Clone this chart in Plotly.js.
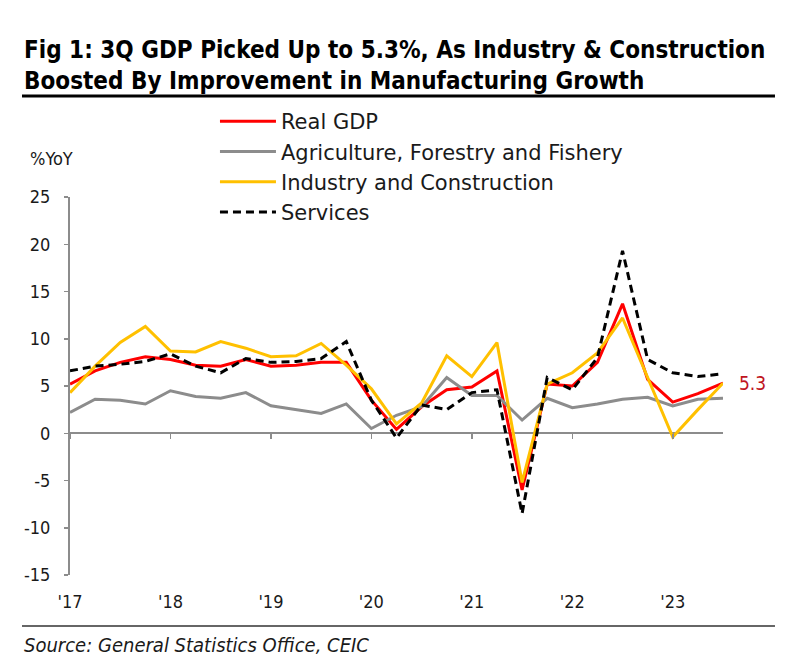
<!DOCTYPE html>
<html>
<head>
<meta charset="utf-8">
<script src="https://cdn.plot.ly/plotly-3.0.1.min.js"></script>
<style>html,body{margin:0;padding:0;background:#fff;}#chart{width:800px;height:671px;}</style>
</head>
<body>
<div id="chart"></div>
<script>
// Quarterly categories 1Q2017 .. 3Q2023
const quarters = [
  "1Q17","2Q17","3Q17","4Q17",
  "1Q18","2Q18","3Q18","4Q18",
  "1Q19","2Q19","3Q19","4Q19",
  "1Q20","2Q20","3Q20","4Q20",
  "1Q21","2Q21","3Q21","4Q21",
  "1Q22","2Q22","3Q22","4Q22",
  "1Q23","2Q23","3Q23"
];
const realGDP = [5.2, 6.6, 7.5, 8.1, 7.8, 7.2, 7.1, 7.8, 7.1, 7.2, 7.5, 7.5,
                 3.5, 0.4, 2.8, 4.6, 4.9, 6.6, -6.0, 5.2, 5.0, 7.5, 13.7, 5.7, 3.3, 4.2, 5.3];
const agriculture = [2.2, 3.6, 3.5, 3.1, 4.5, 3.9, 3.7, 4.3, 2.9, 2.5, 2.1, 3.1,
                     0.5, 1.9, 2.8, 5.9, 4.0, 4.0, 1.4, 3.7, 2.7, 3.1, 3.6, 3.8, 2.9, 3.6, 3.7];
const industry = [4.3, 7.1, 9.6, 11.3, 8.7, 8.6, 9.7, 9.0, 8.1, 8.2, 9.5, 7.2,
                  4.7, 1.0, 3.2, 8.2, 6.0, 9.6, -5.2, 5.2, 6.4, 8.5, 12.2, 6.0, -0.4, 2.5, 5.3];
const services = [6.6, 7.1, 7.3, 7.6, 8.4, 7.1, 6.4, 7.9, 7.5, 7.6, 7.9, 9.7,
                  3.5, -0.5, 3.0, 2.5, 4.3, 4.6, -8.5, 5.9, 4.6, 8.0, 19.3, 7.8, 6.4, 6.0, 6.3];
const tickQuarters = ["1Q17","1Q18","1Q19","1Q20","1Q21","1Q22","1Q23"];
const tickLabels = ["'17","'18","'19","'20","'21","'22","'23"];
const yTicks = [25, 20, 15, 10, 5, 0, -5, -10, -15];
const yTickLabels = ["25", "20", "15", "10", "5", "0", "-5", "-10", "-15"];
const lastLabel = "5.3";

const FONT_C = "'DejaVu Sans Condensed', 'DejaVu Sans', sans-serif";
const FONT = "'DejaVu Sans', sans-serif";
const yMin = -15, yMax = 25;

const traces = [
  {name: "Real GDP", x: quarters, y: realGDP, type: "scatter", mode: "lines",
   line: {color: "#ff0000", width: 3}},
  {name: "Agriculture, Forestry and Fishery", x: quarters, y: agriculture, type: "scatter", mode: "lines",
   line: {color: "#8c8c8c", width: 3}},
  {name: "Industry and Construction", x: quarters, y: industry, type: "scatter", mode: "lines",
   line: {color: "#ffc000", width: 3}},
  {name: "Services", x: quarters, y: services, type: "scatter", mode: "lines",
   line: {color: "#000000", width: 3, dash: "8px,5px"}}
];
// invisible trace on xaxis2 (tick marks on the zero line)
traces.push({x: quarters, y: realGDP, xaxis: "x2", type: "scatter", mode: "lines",
  line: {width: 0, color: "rgba(0,0,0,0)"}, showlegend: false, hoverinfo: "skip"});

const zeroPos = (0 - yMin) / (yMax - yMin);

const layout = {
  width: 800, height: 671,
  margin: {l: 70, r: 77, t: 197, b: 96},
  paper_bgcolor: "#fff", plot_bgcolor: "#fff",
  font: {family: FONT, size: 17, color: "#1a1a1a"},
  title: {
    text: "<b>Fig 1: 3Q GDP Picked Up to 5.3%, As Industry & Construction<br>Boosted By Improvement in Manufacturing Growth</b>",
    x: 24/800, xanchor: "left", xref: "container",
    y: 1 - 58/671, yanchor: "top", yref: "container",
    font: {family: FONT_C, size: 24, color: "#000"}
  },
  showlegend: true,
  legend: {
    x: 0.222, xanchor: "left", y: 1.254, yanchor: "top",
    bgcolor: "rgba(0,0,0,0)", font: {family: FONT, size: 21, color: "#1a1a1a"},
    tracegroupgap: 0, itemwidth: 56
  },
  xaxis: {
    type: "category", categoryorder: "array", categoryarray: quarters,
    range: [0, quarters.length - 1],
    tickmode: "array", tickvals: tickQuarters, ticktext: tickLabels,
    ticks: "", showline: false, showgrid: false, zeroline: false,
    ticklabelstandoff: 14,
    tickfont: {family: FONT_C, size: 18, color: "#1a1a1a"}
  },
  xaxis2: {
    type: "category", categoryorder: "array", categoryarray: quarters,
    matches: "x", overlaying: "x", anchor: "free", position: zeroPos,
    tickmode: "array", tickvals: tickQuarters, ticktext: tickLabels,
    showticklabels: false, ticks: "outside", ticklen: 5, tickwidth: 1.5, tickcolor: "#8c8c8c",
    showline: false, showgrid: false, zeroline: false
  },
  yaxis: {
    range: [yMin, yMax], tickmode: "array", tickvals: yTicks, ticktext: yTickLabels,
    ticks: "outside", ticklen: 4, tickwidth: 1.5, tickcolor: "#8c8c8c",
    showline: true, linecolor: "#8c8c8c", linewidth: 2,
    showgrid: false, zeroline: true, zerolinecolor: "#8c8c8c", zerolinewidth: 2,
    ticklabelstandoff: 10,
    tickfont: {family: FONT_C, size: 18, color: "#1a1a1a"}
  },
  shapes: [
    {type: "line", xref: "paper", yref: "paper", x0: -0.0735, x1: 1.0796, y0: 1.267, y1: 1.267,
     line: {color: "#000", width: 3}},
    {type: "line", xref: "paper", yref: "paper", x0: -0.0735, x1: 1.0796, y0: -0.135, y1: -0.135,
     line: {color: "#333", width: 1.5}}
  ],
  annotations: [
    {text: "%YoY", xref: "paper", yref: "paper", x: -0.064, y: 1.103, xanchor: "left", yanchor: "middle",
     showarrow: false, font: {family: FONT_C, size: 18, color: "#1a1a1a"}},
    {text: lastLabel, x: quarters[quarters.length - 1], y: realGDP[realGDP.length - 1],
     xanchor: "left", yanchor: "middle", xshift: 14, showarrow: false,
     font: {family: FONT_C, size: 19, color: "#c0141e"}},
    {text: "<i>Source: General Statistics Office, CEIC</i>", xref: "paper", yref: "paper",
     x: -0.0735, y: -0.186, xanchor: "left", yanchor: "middle", showarrow: false,
     font: {family: FONT_C, size: 20, color: "#1a1a1a"}}
  ]
};

Plotly.newPlot("chart", traces, layout, {displayModeBar: false, staticPlot: true});
</script>
</body>
</html>
